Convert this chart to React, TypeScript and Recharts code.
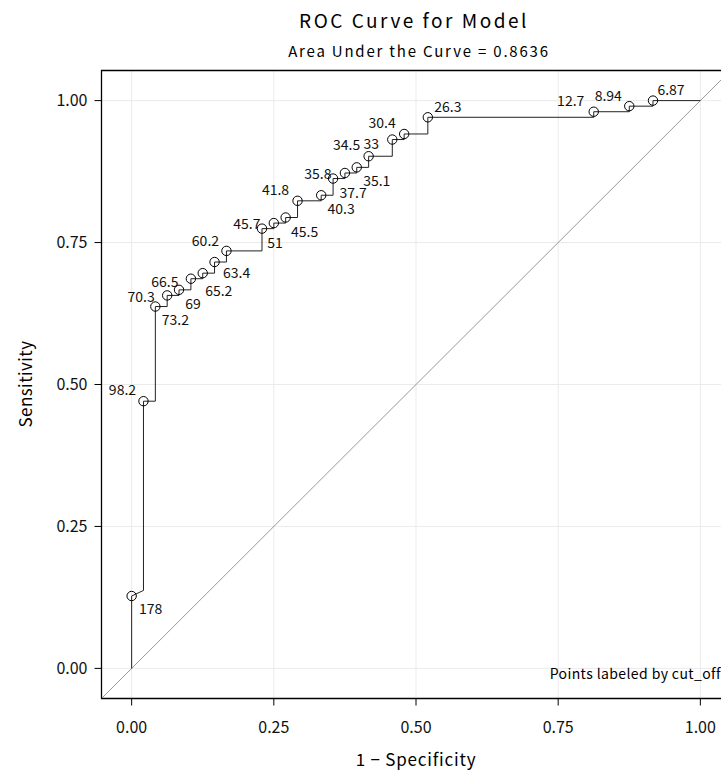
import { ComposedChart, Line, Scatter, XAxis, YAxis, CartesianGrid, ReferenceLine, ReferenceArea } from 'recharts';

// ROC path through every cutoff (1 - specificity, sensitivity)
const pathFpr = [
  0, 0, 0.0208, 0.0208, 0.0417, 0.0417, 0.0625, 0.0625, 0.0833, 0.0833, 0.1042, 0.1042,
  0.125, 0.125, 0.1458, 0.1458, 0.1667, 0.1667, 0.2292, 0.2292, 0.25, 0.25, 0.2708, 0.2708,
  0.2917, 0.2917, 0.3333, 0.3333, 0.3542, 0.3542, 0.375, 0.375, 0.3958, 0.3958, 0.4167, 0.4167,
  0.4583, 0.4583, 0.4792, 0.4792, 0.5208, 0.5208, 0.8125, 0.8125, 0.875, 0.875, 0.9167, 0.9167, 1,
];
const pathTpr = [
  0, 0.1275, 0.1373, 0.4706, 0.4706, 0.6373, 0.6373, 0.6569, 0.6569, 0.6667, 0.6667, 0.6863,
  0.6863, 0.6961, 0.6961, 0.7157, 0.7157, 0.7353, 0.7353, 0.7745, 0.7745, 0.7843, 0.7843, 0.7941,
  0.7941, 0.8235, 0.8235, 0.8333, 0.8333, 0.8627, 0.8627, 0.8725, 0.8725, 0.8824, 0.8824, 0.902,
  0.902, 0.9314, 0.9314, 0.9412, 0.9412, 0.9706, 0.9706, 0.9804, 0.9804, 0.9902, 0.9902, 1, 1,
];

// labelled cutoffs
const cutLabels = [
  '178', '98.2', '73.2', '70.3', '69', '66.5', '65.2', '63.4', '60.2', '51', '45.7', '45.5',
  '41.8', '40.3', '37.7', '35.8', '35.1', '34.5', '33', '30.4', '26.3', '12.7', '8.94', '6.87',
];
const cutFpr = [
  0, 0.0208, 0.0417, 0.0625, 0.0833, 0.1042, 0.125, 0.1458, 0.1667, 0.2292, 0.25, 0.2708,
  0.2917, 0.3333, 0.3542, 0.375, 0.3958, 0.4167, 0.4583, 0.4792, 0.5208, 0.8125, 0.875, 0.9167,
];
const cutTpr = [
  0.1275, 0.4706, 0.6373, 0.6569, 0.6667, 0.6863, 0.6961, 0.7157, 0.7353, 0.7745, 0.7843, 0.7941,
  0.8235, 0.8333, 0.8627, 0.8725, 0.8824, 0.902, 0.9314, 0.9412, 0.9706, 0.9804, 0.9902, 1,
];

const axisTicks = [0, 0.25, 0.5, 0.75, 1];

// label nudges in px (layout only)
const labelNudge: [number, number][] = [
  [19, 12], [-21, -12], [20, 12], [-26, 1], [14, 13], [-26, 2], [16, 17], [22, 10],
  [-21, -11], [13, 13], [-27, 0], [19, 13], [-22, -12], [20, 13], [20, 13], [-27, 0],
  [20, 13], [-22, -12], [-21, 3], [-22, -12], [20, -11], [-23, -12], [-21, -11], [18, -12],
];

const pathData = pathFpr.map((x, i) => ({ x, y: pathTpr[i] }));
const cutData = cutFpr.map((x, i) => ({ x, y: cutTpr[i], label: cutLabels[i], i }));

const FONT = '"Noto Sans CJK JP", "Noto Sans", sans-serif';
const LO = -0.053;
const HI = 1.053;

function CutPoint(props: any) {
  const { cx, cy, payload } = props;
  const [dx, dy] = labelNudge[payload.i];
  return (
    <g>
      <circle cx={cx} cy={cy} r={4.7} fill="none" stroke="#000" strokeWidth={1} />
      <text x={cx + dx} y={cy + dy} textAnchor="middle" dominantBaseline="central"
        fontSize={14} fontFamily={FONT} fill="#111">{payload.label}</text>
    </g>
  );
}

export default function App() {
  return (
    <div style={{ position: 'absolute', left: 0, top: 0, width: 721, height: 773, overflow: 'hidden', background: '#fff', fontFamily: FONT }}>
      <ComposedChart width={740} height={773} margin={{ top: 70.5, right: 9.5, bottom: 0, left: 0 }}>
        <CartesianGrid stroke="#ebebeb" strokeWidth={1} horizontalValues={axisTicks} verticalValues={axisTicks} />
        <XAxis type="number" dataKey="x" domain={[LO, HI]} allowDataOverflow ticks={axisTicks}
          tickFormatter={(v: number) => v.toFixed(2)} axisLine={false}
          tickLine={{ stroke: '#000', strokeWidth: 1 }} tickSize={7} tickMargin={16} height={74.5}
          tick={{ fill: '#111', fontSize: 16, fontFamily: FONT }} />
        <YAxis type="number" dataKey="y" domain={[LO, HI]} allowDataOverflow ticks={axisTicks}
          tickFormatter={(v: number) => v.toFixed(2)} axisLine={false}
          tickLine={{ stroke: '#000', strokeWidth: 1 }} tickSize={7} tickMargin={7} width={101.5}
          tick={{ fill: '#111', fontSize: 16, fontFamily: FONT }} />
        <ReferenceLine segment={[{ x: LO, y: LO }, { x: HI, y: HI }]} stroke="#7f7f7f" strokeWidth={0.8} ifOverflow="hidden" />
        <Line data={pathData} dataKey="y" type="linear" stroke="#222" strokeWidth={1} dot={false} activeDot={false} isAnimationActive={false} />
        <Scatter data={cutData} dataKey="y" shape={<CutPoint />} isAnimationActive={false} />
        <ReferenceArea x1={LO} x2={HI} y1={LO} y2={HI} fill="none" stroke="#000" strokeWidth={1.3} ifOverflow="visible" />
      </ComposedChart>
      <svg width={721} height={773} style={{ position: 'absolute', left: 0, top: 0, pointerEvents: 'none' }}>
        <text x={414} y={28} textAnchor="middle" fontSize={19} letterSpacing={2.5} fontFamily={FONT} fill="#000">ROC Curve for Model</text>
        <text x={419} y={57} textAnchor="middle" fontSize={15} letterSpacing={1.8} fontFamily={FONT} fill="#000">Area Under the Curve = 0.8636</text>
        <text x={416} y={766} textAnchor="middle" fontSize={17} letterSpacing={0.8} fontFamily={FONT} fill="#000">1 − Specificity</text>
        <text transform="translate(32,384) rotate(-90)" textAnchor="middle" fontSize={17} letterSpacing={0.4} fontFamily={FONT} fill="#000">Sensitivity</text>
        <text x={721} y={679} textAnchor="end" fontSize={14} letterSpacing={0.4} fontFamily={FONT} fill="#000">Points labeled by cut_off</text>
      </svg>
    </div>
  );
}
